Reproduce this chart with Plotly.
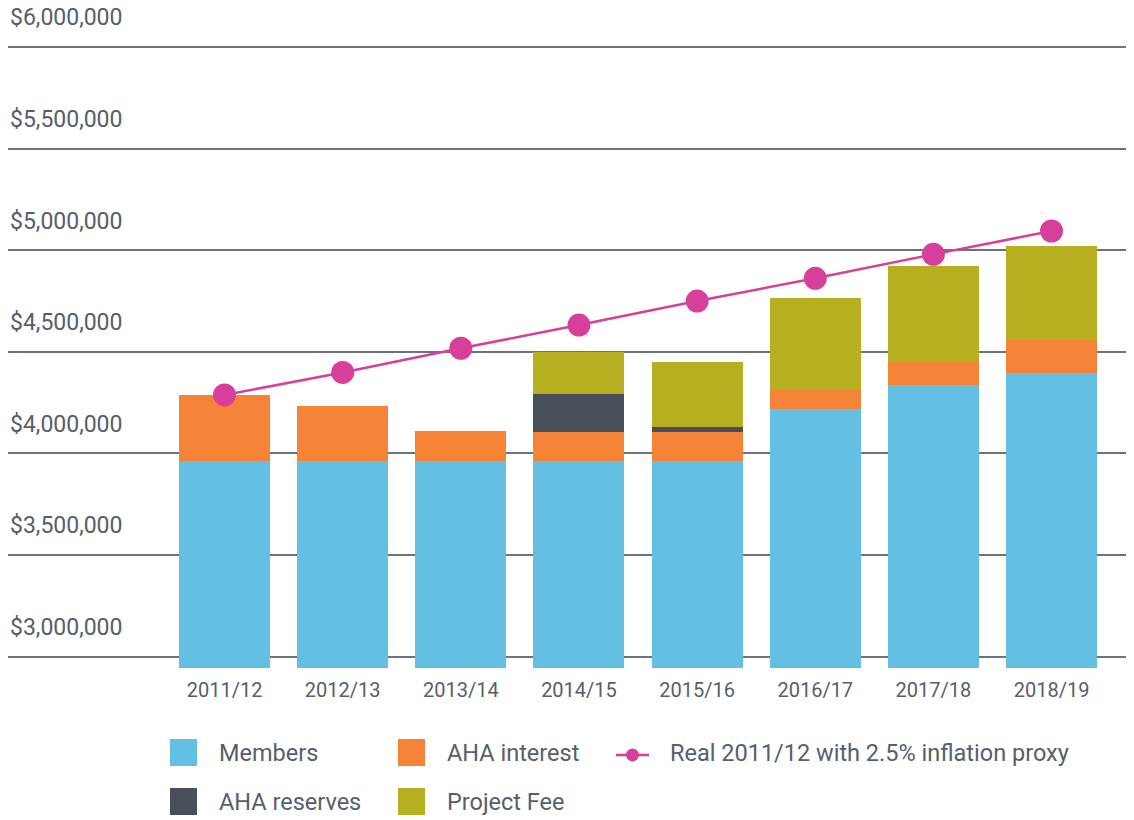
import plotly.graph_objects as go

categories = ["2011/12", "2012/13", "2013/14", "2014/15", "2015/16", "2016/17", "2017/18", "2018/19"]
members = [3960000, 3960000, 3960000, 3960000, 3960000, 4218000, 4336000, 4394000]
aha_interest = [326000, 273000, 150000, 145000, 145000, 95000, 115000, 165000]
aha_reserves = [0, 0, 0, 187000, 24000, 0, 0, 0]
project_fee = [0, 0, 0, 208000, 320000, 451000, 472000, 461000]
real_inflation = [4287000, 4398000, 4517000, 4631000, 4749000, 4861000, 4979000, 5094000]

y_ticks = [3000000, 3500000, 4000000, 4500000, 5000000, 5500000, 6000000]
y_tick_labels = ["$3,000,000", "$3,500,000", "$4,000,000", "$4,500,000", "$5,000,000", "$5,500,000", "$6,000,000"]

series_names = ["Members", "AHA interest", "AHA reserves", "Project Fee"]
line_name = "Real 2011/12 with 2.5% inflation proxy"

C_MEMBERS = "#63c0e3"
C_INTEREST = "#f58439"
C_RESERVES = "#47505a"
C_FEE = "#b6b021"
C_LINE = "#d6409a"
C_TEXT = "#56606b"
C_GRID = "#6b737c"
FONT = "Roboto"

# page offset (body margin) and geometry in page pixels
OFF = 8
PAGE_W, PAGE_H = 1134, 820
W, H = PAGE_W - OFF, PAGE_H - OFF
PLOT_LEFT, PLOT_RIGHT, PLOT_TOP, PLOT_BOTTOM = 8, 1134, 30, 668
L = PLOT_LEFT - OFF
R = OFF + W - PLOT_RIGHT
T = PLOT_TOP - OFF
B = OFF + H - PLOT_BOTTOM
PLOT_W = PLOT_RIGHT - PLOT_LEFT
PLOT_H = PLOT_BOTTOM - PLOT_TOP


def px(x):
    return (x - PLOT_LEFT) / PLOT_W


def py(y):
    return (PLOT_BOTTOM - y) / PLOT_H


fig = go.Figure()
colors = [C_MEMBERS, C_INTEREST, C_RESERVES, C_FEE]
for name, vals, col in zip(series_names, [members, aha_interest, aha_reserves, project_fee], colors):
    fig.add_trace(go.Bar(x=categories, y=vals, name=name, marker=dict(color=col, line=dict(width=0)),
                         showlegend=False))

fig.add_trace(go.Scatter(x=categories, y=real_inflation, name=line_name, mode="lines+markers",
                         line=dict(color=C_LINE, width=2.5),
                         marker=dict(color=C_LINE, size=23), showlegend=False))

annotations = []
for v, lab in zip(y_ticks, y_tick_labels):
    annotations.append(dict(x=0, xref="paper", xanchor="left", y=v, yref="y", yanchor="middle",
                            yshift=29, text=lab, showarrow=False,
                            font=dict(family=FONT, size=23, color=C_TEXT)))

shapes = []
legend_boxes = [
    (series_names[0], C_MEMBERS, 170, 739, 217),
    (series_names[1], C_INTEREST, 398, 739, 445),
    (series_names[2], C_RESERVES, 170, 788, 217),
    (series_names[3], C_FEE, 398, 788, 445),
]
for name, col, x0, y0, tx in legend_boxes:
    shapes.append(dict(type="rect", xref="paper", yref="paper", x0=px(x0), x1=px(x0 + 27),
                       y0=py(y0 + 27), y1=py(y0), fillcolor=col, line=dict(width=0)))
    annotations.append(dict(x=px(tx), xref="paper", xanchor="left", y=py(y0 + 14), yref="paper",
                            yanchor="middle", text=name, showarrow=False,
                            font=dict(family=FONT, size=23.5, color=C_TEXT)))
shapes.append(dict(type="line", xref="paper", yref="paper", x0=px(616), x1=px(649), y0=py(755), y1=py(755),
                   line=dict(color=C_LINE, width=2.5)))
shapes.append(dict(type="circle", xref="paper", yref="paper", x0=px(626), x1=px(639), y0=py(761.5), y1=py(748.5),
                   fillcolor=C_LINE, line=dict(width=0)))
annotations.append(dict(x=px(668), xref="paper", xanchor="left", y=py(753), yref="paper",
                        yanchor="middle", text=line_name, showarrow=False,
                        font=dict(family=FONT, size=23.5, color=C_TEXT)))

px_per_dollar = 609.6 / 3000000
y_bottom = 3000000 - (PLOT_BOTTOM - 656.5) / px_per_dollar
y_top = 3000000 + (656.5 - PLOT_TOP) / px_per_dollar

fig.update_layout(
    width=W, height=H,
    margin=dict(l=L, r=R, t=T, b=B, pad=0),
    barmode="stack",
    bargap=0.23,
    plot_bgcolor="white",
    paper_bgcolor="white",
    font=dict(family=FONT, color=C_TEXT),
    xaxis=dict(type="category", range=[-1.833, 7.698], showgrid=False, zeroline=False, showline=False,
               ticks="outside", ticklen=4, tickcolor="rgba(0,0,0,0)",
               tickfont=dict(family=FONT, size=20, color=C_TEXT)),
    yaxis=dict(range=[y_bottom, y_top], tickvals=y_ticks, showticklabels=False, showgrid=True,
               gridcolor=C_GRID, gridwidth=1.5, zeroline=False, showline=False),
    annotations=annotations,
    shapes=shapes,
)

fig.write_html("out.html")
